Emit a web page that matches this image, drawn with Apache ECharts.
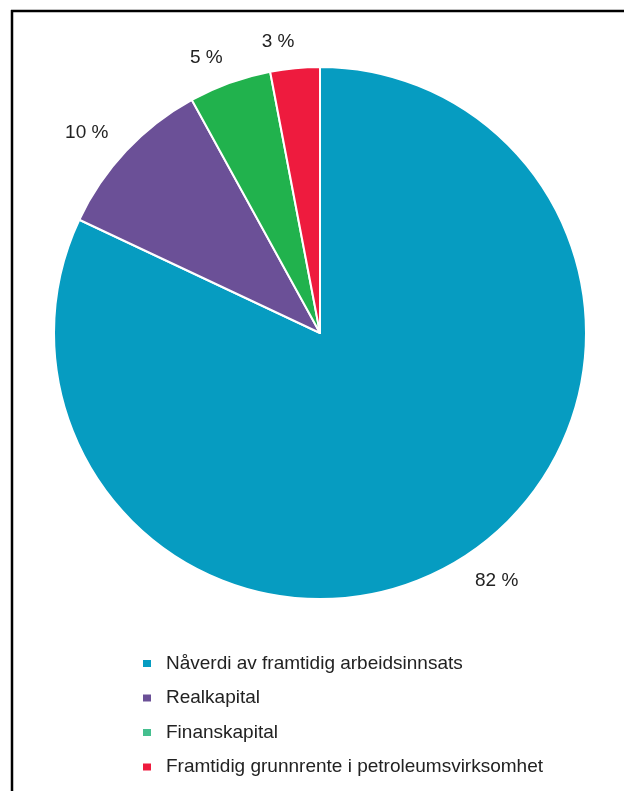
<!DOCTYPE html>
<html><head><meta charset="utf-8">
<script src="https://cdn.jsdelivr.net/npm/echarts@6/dist/echarts.min.js"></script>
<style>html,body{margin:0;padding:0;background:#fff}#c{width:624px;height:791px}</style>
</head><body><div id="c"></div>
<script>
const categories = ['Nåverdi av framtidig arbeidsinnsats','Realkapital','Finanskapital','Framtidig grunnrente i petroleumsvirksomhet'];
const values = [82, 10, 5, 3];
const sliceColors = ['#069CC1','#6B5097','#21B24D','#EE1B3E'];
const legendColors = ['#069CC1','#6B5097','#45BF8F','#EE1B3E'];

const FONT = 'Liberation Sans, Arial, sans-serif';
const chart = echarts.init(document.getElementById('c'), null, {renderer:'canvas'});
chart.setOption({
  animation:false,
  textStyle:{fontFamily:FONT},
  graphic:[
    {type:'line', shape:{x1:11,y1:11,x2:624,y2:11}, style:{stroke:'#000',lineWidth:2.5}},
    {type:'line', shape:{x1:12,y1:10,x2:12,y2:791}, style:{stroke:'#000',lineWidth:2.5}}
  ],
  legend:{
    orient:'vertical', left:141, top:654, padding:0,
    itemWidth:10, itemHeight:9, itemGap:15.5,
    icon:'rect',
    textStyle:{fontSize:19, color:'#222', fontFamily:FONT, padding:[0,0,0,9]},
    data: categories.map((n,i)=>({name:n, itemStyle:{color:legendColors[i]}}))
  },
  series:[{
    type:'pie',
    center:[320,333], radius:[0,266],
    startAngle:90, clockwise:true,
    avoidLabelOverlap:false,
    itemStyle:{borderColor:'#fff', borderWidth:2},
    label:{show:true, position:'outside', formatter:'{c} %', fontSize:19, color:'#222', fontFamily:FONT},
    labelLine:{show:false, length:27, length2:-7},
    emphasis:{disabled:true},
    data: categories.map((n,i)=>({name:n, value:values[i], itemStyle:{color:sliceColors[i]}}))
  }]
});
</script></body></html>
